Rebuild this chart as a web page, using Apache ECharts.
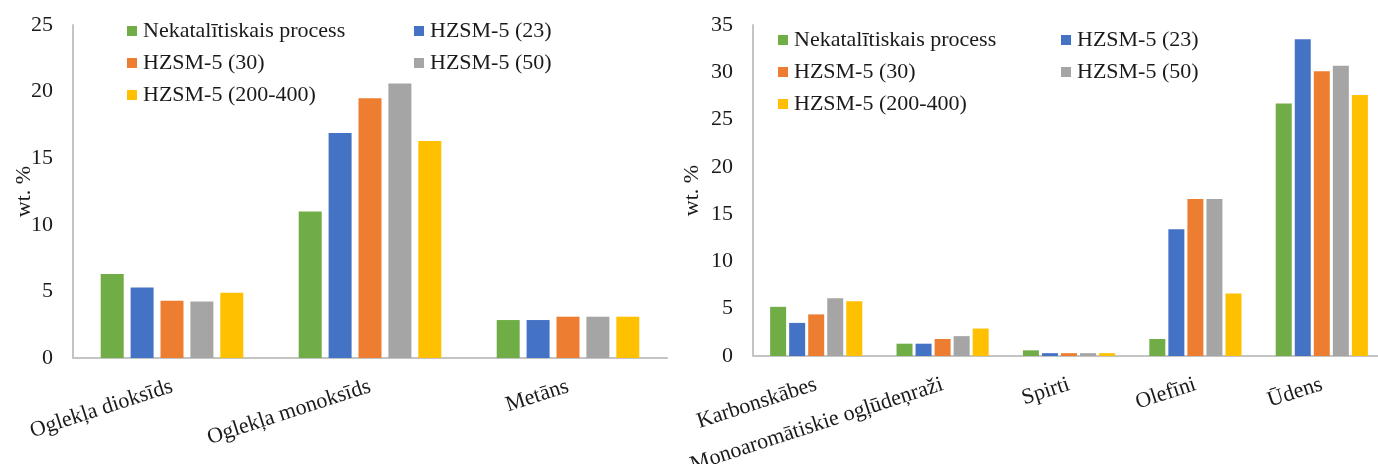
<!DOCTYPE html>
<html>
<head>
<meta charset="utf-8">
<script src="https://cdn.jsdelivr.net/npm/echarts@6/dist/echarts.min.js"></script>
<style>
  html, body { margin: 0; padding: 0; background: #fff; }
  #wrap { position: relative; width: 1378px; height: 464px; overflow: hidden; }
  #gas { position: absolute; left: 0; top: 0; width: 672px; height: 464px; overflow: hidden; }
  #liquid { position: absolute; left: 672px; top: 0; width: 706px; height: 464px; overflow: hidden; }
</style>
</head>
<body>
<div id="wrap">
  <div id="gas"></div>
  <div id="liquid"></div>
</div>
<script>
// Series (catalyst) names and colours
const seriesNames = ['Nekatalītiskais process', 'HZSM-5 (23)', 'HZSM-5 (30)', 'HZSM-5 (50)', 'HZSM-5 (200-400)'];
const seriesColors = ['#70AD47', '#4472C4', '#ED7D31', '#A5A5A5', '#FFC000'];

// Gas products, wt. %
const gasCategories = ['Oglekļa dioksīds', 'Oglekļa monoksīds', 'Metāns'];
const gasNekatalitiskais = [6.3, 11.0, 2.85];
const gasHZSM23 = [5.3, 16.9, 2.85];
const gasHZSM30 = [4.3, 19.5, 3.1];
const gasHZSM50 = [4.25, 20.6, 3.1];
const gasHZSM200 = [4.9, 16.3, 3.1];
const gasTicks = { min: 0, max: 25, interval: 5 };

// Liquid products, wt. %
const liquidCategories = ['Karbonskābes', 'Monoaromātiskie ogļūdeņraži', 'Spirti', 'Olefīni', 'Ūdens'];
const liquidNekatalitiskais = [5.2, 1.3, 0.6, 1.8, 26.7];
const liquidHZSM23 = [3.5, 1.3, 0.3, 13.4, 33.5];
const liquidHZSM30 = [4.4, 1.8, 0.3, 16.6, 30.1];
const liquidHZSM50 = [6.1, 2.1, 0.3, 16.6, 30.7];
const liquidHZSM200 = [5.8, 2.9, 0.3, 6.6, 27.6];
const liquidTicks = { min: 0, max: 35, interval: 5 };

const yName = 'wt. %';
const FONT = '"Liberation Serif", "Times New Roman", serif';
const TEXT = '#1a1a1a';
const AXIS = '#c4c4c4';

function legendColumn(names, left, top) {
  return {
    orient: 'vertical',
    left: left,
    top: top,
    icon: 'rect',
    itemWidth: 10,
    itemHeight: 10,
    itemGap: 10,
    selectedMode: false,
    data: names,
    textStyle: { fontFamily: FONT, fontSize: 22, color: TEXT, lineHeight: 22, padding: [0, 0, 0, 1] }
  };
}

function buildOption(p) {
  return {
    animation: false,
    backgroundColor: '#ffffff',
    color: seriesColors,
    legend: [
      legendColumn([seriesNames[0], seriesNames[2], seriesNames[4]], p.legendLeft1, p.legendTop),
      legendColumn([seriesNames[1], seriesNames[3]], p.legendLeft2, p.legendTop)
    ],
    grid: {
      left: p.gridLeft, top: p.gridTop, width: p.gridWidth, bottom: p.gridBottom,
      containLabel: false, outerBoundsMode: 'none'
    },
    xAxis: {
      type: 'category',
      data: p.categories,
      axisLine: { lineStyle: { color: AXIS, width: 2 } },
      axisTick: { show: false },
      axisLabel: { rotate: 18, margin: 28, fontFamily: FONT, fontSize: 22, color: TEXT, interval: 0 }
    },
    yAxis: {
      type: 'value',
      min: p.ticks.min,
      max: p.ticks.max,
      interval: p.ticks.interval,
      name: yName,
      nameLocation: 'middle',
      nameGap: p.nameGap,
      nameMoveOverlap: false,
      nameTextStyle: { fontFamily: FONT, fontSize: 22, color: TEXT },
      axisLine: { show: true, lineStyle: { color: AXIS, width: 2 } },
      axisTick: { show: false },
      splitLine: { show: false },
      axisLabel: { margin: 20, fontFamily: FONT, fontSize: 22, color: TEXT }
    },
    series: p.values.map((vals, i) => ({
      name: seriesNames[i],
      type: 'bar',
      data: vals,
      barWidth: p.barWidth,
      barGap: p.barGap,
      itemStyle: { color: seriesColors[i] }
    }))
  };
}

const gasChart = echarts.init(document.getElementById('gas'), null, { renderer: 'canvas' });
gasChart.setOption(buildOption({
  categories: gasCategories,
  values: [gasNekatalitiskais, gasHZSM23, gasHZSM30, gasHZSM50, gasHZSM200],
  ticks: gasTicks,
  gridLeft: 73, gridTop: 25, gridWidth: 594, gridBottom: 106,
  barWidth: 23, barGap: '30%',
  nameGap: 38,
  legendLeft1: 122, legendLeft2: 409, legendTop: 15
}));

const liquidChart = echarts.init(document.getElementById('liquid'), null, { renderer: 'canvas' });
liquidChart.setOption(buildOption({
  categories: liquidCategories,
  values: [liquidNekatalitiskais, liquidHZSM23, liquidHZSM30, liquidHZSM50, liquidHZSM200],
  ticks: liquidTicks,
  gridLeft: 81, gridTop: 25, gridWidth: 632, gridBottom: 108,
  barWidth: 16, barGap: '19%',
  nameGap: 50,
  legendLeft1: 101, legendLeft2: 384, legendTop: 24
}));
</script>
</body>
</html>
